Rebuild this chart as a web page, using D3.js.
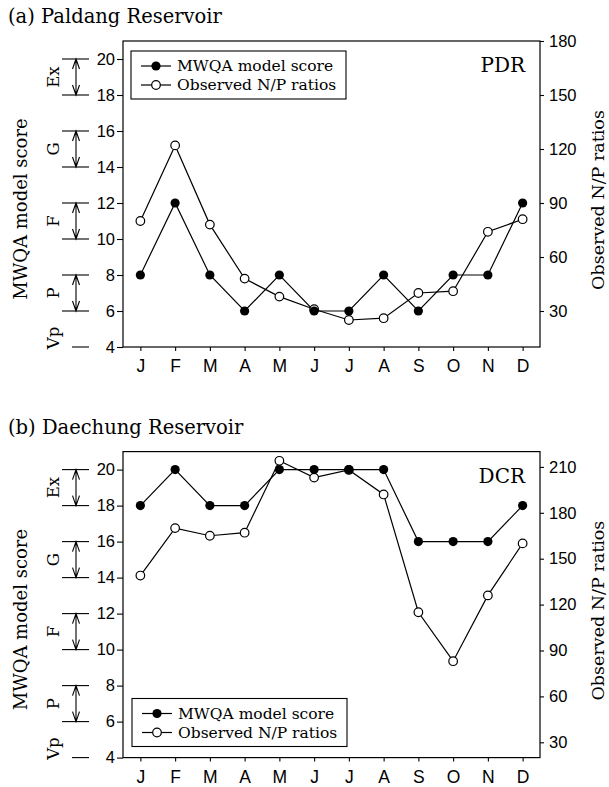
<!DOCTYPE html>
<html>
<head>
<meta charset="utf-8">
<script src="https://cdn.jsdelivr.net/npm/d3@7"></script>
<style>
  body { margin: 0; background: #fff; }
  svg { font-family: "DejaVu Serif", "Liberation Serif", serif; }
</style>
</head>
<body>
<div id="chart"></div>
<script>
const FRAME_WIDTH = 609;
const FRAME_HEIGHT = 787;

// month labels (index based, labels repeat)
const MONTHS = ["J", "F", "M", "A", "M", "J", "J", "A", "S", "O", "N", "D"];

// (a) Paldang Reservoir
const PDR_SCORE = [8, 12, 8, 6, 8, 6, 6, 8, 6, 8, 8, 12];
const PDR_NP = [80, 122, 78, 48, 38, 31, 25, 26, 40, 41, 74, 81];
const PDR_NP_TICKS = [30, 60, 90, 120, 150, 180];

// (b) Daechung Reservoir
const DCR_SCORE = [18, 20, 18, 18, 20, 20, 20, 20, 16, 16, 16, 18];
const DCR_NP = [139, 170, 165, 167, 214, 203, 208, 192, 115, 83, 126, 160];
const DCR_NP_TICKS = [30, 60, 90, 120, 150, 180, 210];

const SCORE_TICKS = [4, 6, 8, 10, 12, 14, 16, 18, 20];

// water quality classes on the score axis
const CLASS_NAMES = ["Ex", "G", "F", "P"];
const CLASS_LOW = [18, 14, 10, 6];
const CLASS_HIGH = [20, 16, 12, 8];

const LEGEND_LABELS = ["MWQA model score", "Observed N/P ratios"];

const PLOT = {left: 123, right: 540, height: 306};

const svg = d3.select("#chart")
  .append("svg")
    .attr("width", FRAME_WIDTH)
    .attr("height", FRAME_HEIGHT);

function drawPanel(cfg) {
  const top = cfg.top;
  const bottom = top + PLOT.height;

  const X = d3.scalePoint()
    .domain(d3.range(12))
    .range([PLOT.left, PLOT.right])
    .padding(0.5);

  const Y = d3.scaleLinear().domain([4, 21]).range([bottom, top]);
  const Y2 = d3.scaleLinear().domain(cfg.npDomain).range([bottom, top]);

  // title
  svg.append("text")
    .attr("x", 8).attr("y", top - 18)
    .attr("font-size", 19.5)
    .text(cfg.title);

  // frame
  svg.append("rect")
    .attr("x", PLOT.left).attr("y", top)
    .attr("width", PLOT.right - PLOT.left).attr("height", PLOT.height)
    .attr("fill", "none").attr("stroke", "#000").attr("stroke-width", 1.2);

  // left axis
  const ax = svg.append("g")
    .attr("transform", "translate(" + PLOT.left + ",0)")
    .call(d3.axisLeft(Y).tickValues(SCORE_TICKS).tickSize(6).tickPadding(2));
  ax.select(".domain").remove();
  ax.selectAll("text").attr("font-size", 16.5).attr("font-family", null);

  // right axis
  const ax2 = svg.append("g")
    .attr("transform", "translate(" + PLOT.right + ",0)")
    .call(d3.axisRight(Y2).tickValues(cfg.npTicks).tickSize(4).tickPadding(5));
  ax2.select(".domain").remove();
  ax2.selectAll("text").attr("font-size", 16.5).attr("font-family", null);

  // bottom axis
  const ax3 = svg.append("g")
    .attr("transform", "translate(0," + bottom + ")")
    .call(d3.axisBottom(X).tickFormat((i) => MONTHS[i]).tickSize(4).tickPadding(9));
  ax3.select(".domain").remove();
  ax3.selectAll("text").attr("font-size", 17.5).attr("font-family", null);
  svg.selectAll(".tick line").attr("stroke-width", 1.1);

  // axis titles
  svg.append("text")
    .attr("transform", "translate(27," + (top + 168) + ") rotate(-90)")
    .attr("text-anchor", "middle").attr("font-size", 18)
    .text("MWQA model score");
  svg.append("text")
    .attr("transform", "translate(604," + (top + 159) + ") rotate(-90)")
    .attr("text-anchor", "middle").attr("font-size", 17.5)
    .text("Observed N/P ratios");

  // class brackets
  const cls = svg.append("g");
  CLASS_NAMES.forEach((name, i) => {
    [CLASS_LOW[i], CLASS_HIGH[i]].forEach((v) => {
      cls.append("line")
        .attr("x1", 62).attr("x2", 89)
        .attr("y1", Y(v)).attr("y2", Y(v))
        .attr("stroke", "#000").attr("stroke-width", 1.1);
    });
    const y0 = Y(CLASS_HIGH[i]), y1 = Y(CLASS_LOW[i]), ax0 = 76;
    cls.append("path")
      .attr("d", "M" + ax0 + "," + y0 + "V" + y1 +
        "M" + (ax0 - 3.5) + "," + (y0 + 10) + "L" + ax0 + "," + y0 + "L" + (ax0 + 3.5) + "," + (y0 + 10) +
        "M" + (ax0 - 3.5) + "," + (y1 - 10) + "L" + ax0 + "," + y1 + "L" + (ax0 + 3.5) + "," + (y1 - 10))
      .attr("fill", "none").attr("stroke", "#000").attr("stroke-width", 1.1);
    cls.append("text")
      .attr("transform", "translate(59," + ((y0 + y1) / 2) + ") rotate(-90)")
      .attr("text-anchor", "middle").attr("font-size", 16.5)
      .text(name);
  });
  cls.append("line")
    .attr("x1", 72).attr("x2", 89)
    .attr("y1", Y(4)).attr("y2", Y(4))
    .attr("stroke", "#000").attr("stroke-width", 1.1);
  cls.append("text")
    .attr("transform", "translate(59," + Y(4.5) + ") rotate(-90)")
    .attr("text-anchor", "middle").attr("font-size", 16.5)
    .text("Vp");

  // series
  const lineScore = d3.line().x((d, i) => X(i)).y((d) => Y(d));
  const lineNP = d3.line().x((d, i) => X(i)).y((d) => Y2(d));

  svg.append("path").datum(cfg.score)
    .attr("d", lineScore).attr("fill", "none").attr("stroke", "#000").attr("stroke-width", 1.2);
  svg.append("path").datum(cfg.np)
    .attr("d", lineNP).attr("fill", "none").attr("stroke", "#000").attr("stroke-width", 1.2);

  svg.append("g").selectAll("circle")
    .data(cfg.np).enter().append("circle")
      .attr("cx", (d, i) => X(i)).attr("cy", (d) => Y2(d))
      .attr("r", 4.3).attr("fill", "#fff").attr("stroke", "#000").attr("stroke-width", 1.2);
  svg.append("g").selectAll("circle")
    .data(cfg.score).enter().append("circle")
      .attr("cx", (d, i) => X(i)).attr("cy", (d) => Y(d))
      .attr("r", 4.6).attr("fill", "#000");

  // station tag
  svg.append("text")
    .attr("x", 525).attr("y", top + 31)
    .attr("text-anchor", "end").attr("font-size", 20)
    .text(cfg.tag);

  // legend
  const lg = svg.append("g").attr("transform", "translate(" + cfg.legend[0] + "," + cfg.legend[1] + ")");
  lg.append("rect")
    .attr("width", 215).attr("height", 48)
    .attr("fill", "#fff").attr("stroke", "#000").attr("stroke-width", 1.1);
  LEGEND_LABELS.forEach((label, i) => {
    const ly = 15 + i * 19;
    lg.append("line")
      .attr("x1", 10).attr("x2", 40).attr("y1", ly).attr("y2", ly)
      .attr("stroke", "#000").attr("stroke-width", 1.2);
    lg.append("circle")
      .attr("cx", 25).attr("cy", ly).attr("r", i === 0 ? 4.6 : 4.3)
      .attr("fill", i === 0 ? "#000" : "#fff")
      .attr("stroke", "#000").attr("stroke-width", i === 0 ? 0 : 1.2);
    lg.append("text")
      .attr("x", 46).attr("y", ly + 5)
      .attr("font-size", 15.5)
      .text(label);
  });
}

drawPanel({
  top: 41, title: "(a) Paldang Reservoir", tag: "PDR",
  score: PDR_SCORE, np: PDR_NP, npDomain: [10, 180], npTicks: PDR_NP_TICKS,
  legend: [131, 51]
});

drawPanel({
  top: 451.6, title: "(b) Daechung Reservoir", tag: "DCR",
  score: DCR_SCORE, np: DCR_NP, npDomain: [20, 220], npTicks: DCR_NP_TICKS,
  legend: [132, 698.5]
});
</script>
</body>
</html>
